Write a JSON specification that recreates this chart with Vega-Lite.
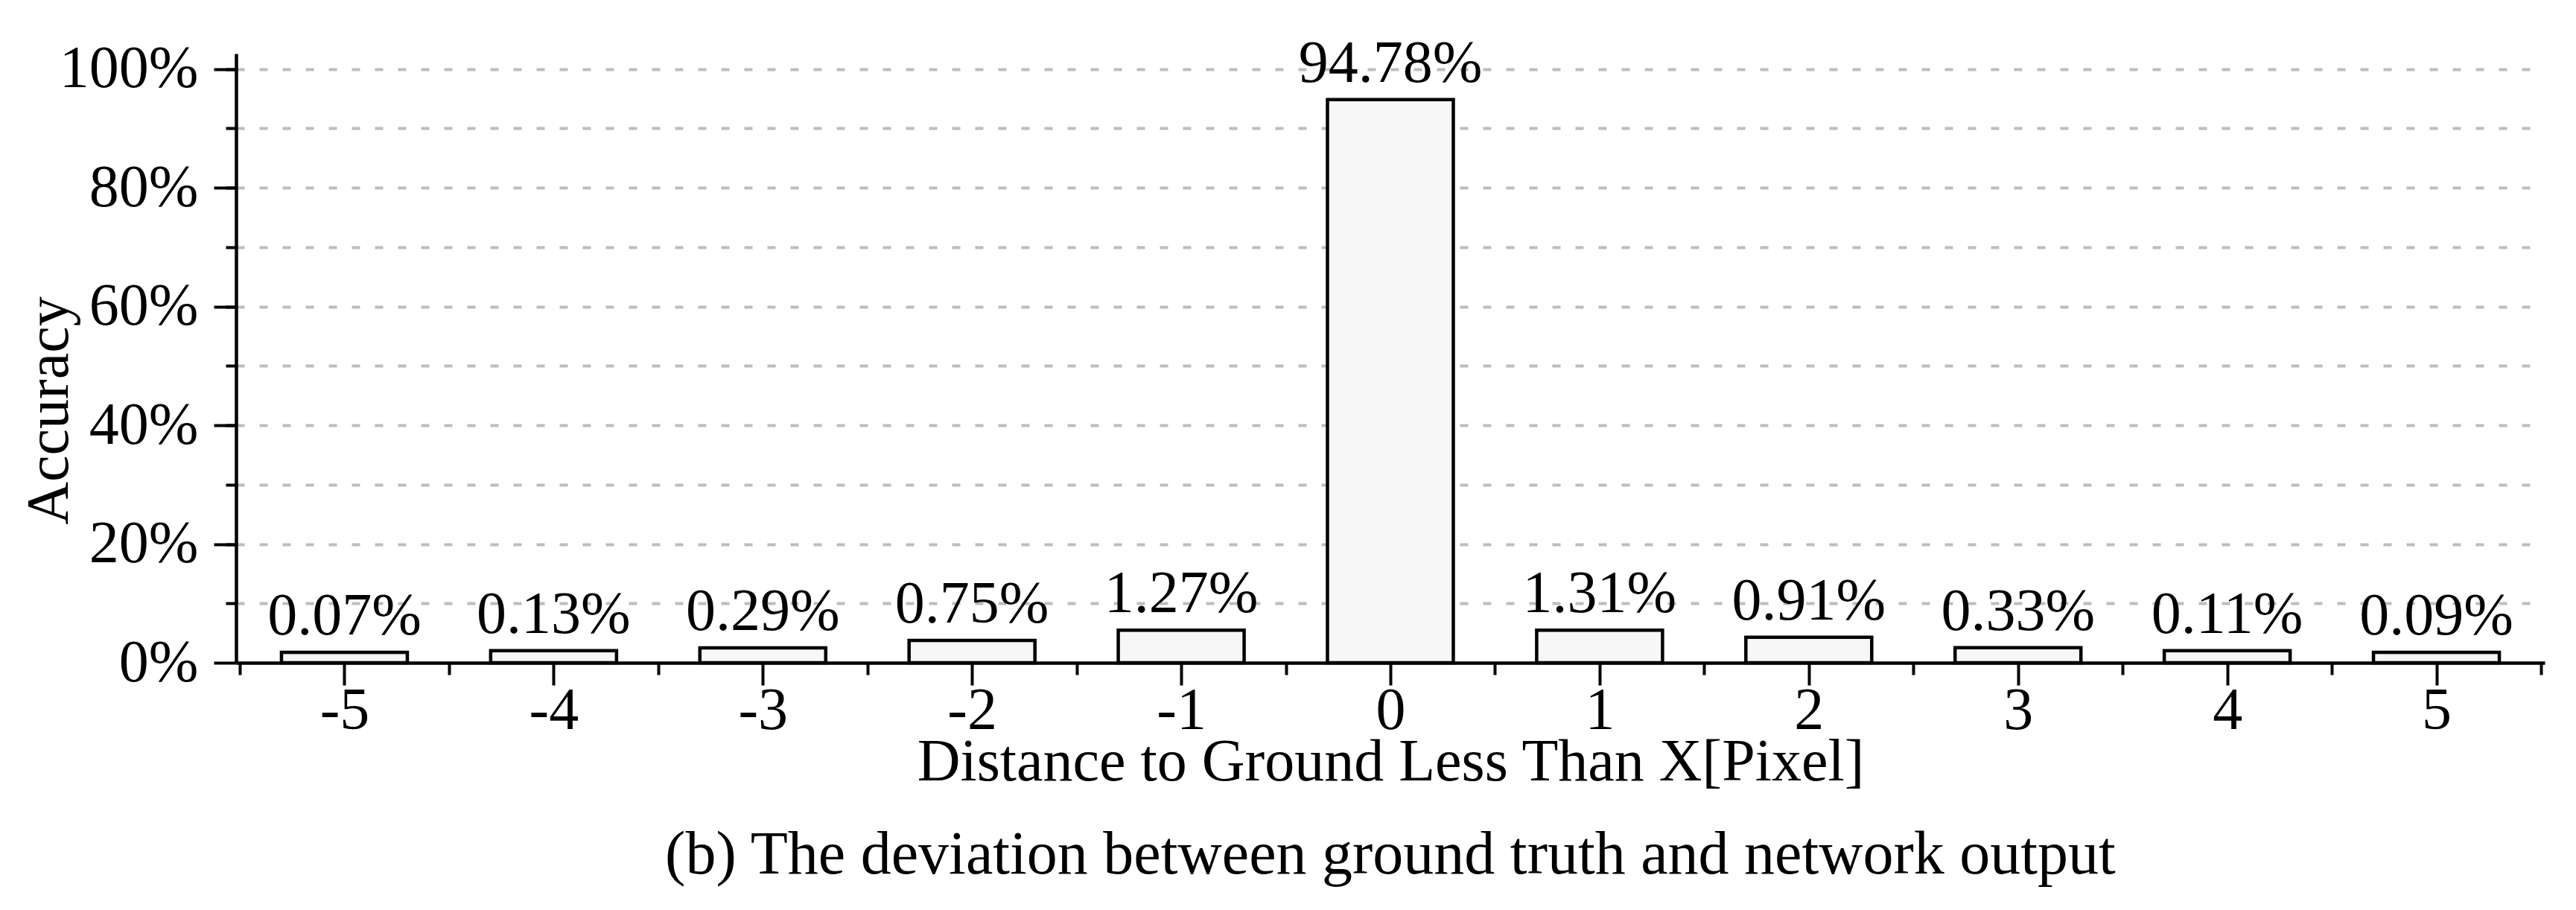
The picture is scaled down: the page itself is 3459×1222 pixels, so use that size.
{
  "$schema": "https://vega.github.io/schema/vega-lite/v6.json",
  "width": 3100,
  "height": 818,
  "autosize": {"type": "none"},
  "padding": {"left": 317, "top": 72, "right": 42, "bottom": 332},
  "background": "white",
  "config": {"view": {"stroke": null}, "font": "Liberation Serif"},
  "title": {
    "text": "(b) The deviation between ground truth and network output",
    "orient": "bottom",
    "anchor": "middle",
    "fontSize": 82,
    "font": "Liberation Serif",
    "fontWeight": "normal",
    "color": "black",
    "offset": 45
  },
  "data": {
    "values": [
      {"distance": -5, "bar_value": 1.76, "label": "0.07%"},
      {"distance": -4, "bar_value": 2.03, "label": "0.13%"},
      {"distance": -3, "bar_value": 2.5, "label": "0.29%"},
      {"distance": -2, "bar_value": 3.76, "label": "0.75%"},
      {"distance": -1, "bar_value": 5.5, "label": "1.27%"},
      {"distance": 0, "bar_value": 94.85, "label": "94.78%"},
      {"distance": 1, "bar_value": 5.5, "label": "1.31%"},
      {"distance": 2, "bar_value": 4.3, "label": "0.91%"},
      {"distance": 3, "bar_value": 2.55, "label": "0.33%"},
      {"distance": 4, "bar_value": 2.03, "label": "0.11%"},
      {"distance": 5, "bar_value": 1.76, "label": "0.09%"}
    ]
  },
  "layer": [
    {
      "mark": {"type": "bar", "orient": "vertical", "size": 169, "fill": "#f7f7f7", "stroke": "black", "strokeWidth": 4.5},
      "encoding": {
        "x": {
          "field": "distance", "type": "quantitative",
          "scale": {"domain": [-5.5, 5.5], "nice": false, "zero": false},
          "axis": {
            "orient": "bottom",
            "values": [-5, -4, -3, -2, -1, 0, 1, 2, 3, 4, 5],
            "grid": false,
            "domain": true, "domainColor": "black", "domainWidth": 4.5,
            "ticks": true, "tickSize": 30, "tickWidth": 4, "tickColor": "black",
            "labelExpr": "datum.value < 0 ? '-' + abs(datum.value) : '' + datum.value",
            "labelFont": "Liberation Serif", "labelFontSize": 80, "labelColor": "black", "labelPadding": -5,
            "labelFlush": false, "labelOverlap": false, "labelLimit": 0,
            "title": "Distance to Ground Less Than X[Pixel]",
            "titleFont": "Liberation Serif", "titleFontSize": 80, "titleFontWeight": "normal", "titleColor": "black",
            "titleX": 1550, "titleY": 157, "titleBaseline": "alphabetic", "titleAlign": "center", "titleLimit": 0
          }
        },
        "y": {
          "field": "bar_value", "type": "quantitative",
          "scale": {"domain": [0, 102.6], "nice": false},
          "axis": {
            "orient": "left",
            "values": [0, 20, 40, 60, 80, 100],
            "grid": false,
            "domain": true, "domainColor": "black", "domainWidth": 4.5,
            "ticks": true, "tickSize": 30, "tickWidth": 4, "tickColor": "black",
            "labelExpr": "datum.value + '%'",
            "labelFont": "Liberation Serif", "labelFontSize": 80, "labelColor": "black", "labelPadding": 21,
            "labelFlush": false, "labelOverlap": false, "labelLimit": 0,
            "title": "Accuracy",
            "titleFont": "Liberation Serif", "titleFontSize": 80, "titleFontWeight": "normal", "titleColor": "black",
            "titleX": -227, "titleY": 479, "titleAngle": -90, "titleBaseline": "alphabetic", "titleAlign": "center", "titleLimit": 0
          }
        }
      }
    },
    {
      "mark": {"type": "text", "baseline": "alphabetic", "align": "center", "dy": -24, "fontSize": 80, "font": "Liberation Serif", "color": "black"},
      "encoding": {
        "x": {
          "field": "distance", "type": "quantitative",
          "axis": {
            "orient": "bottom",
            "values": [-5.5, -4.5, -3.5, -2.5, -1.5, -0.5, 0.5, 1.5, 2.5, 3.5, 4.5, 5.5],
            "grid": false, "domain": false, "labels": false,
            "ticks": true, "tickSize": 16, "tickWidth": 4, "tickColor": "black",
            "title": null
          }
        },
        "y": {
          "field": "bar_value", "type": "quantitative",
          "axis": {
            "orient": "left",
            "values": [10, 20, 30, 40, 50, 60, 70, 80, 90, 100],
            "grid": true, "gridColor": "#bdbdbd", "gridWidth": 4, "gridDash": [11, 20],
            "domain": false, "labels": false,
            "ticks": true, "tickSize": 14, "tickWidth": 4, "tickColor": "black",
            "title": null
          }
        },
        "text": {"field": "label", "type": "nominal"}
      }
    }
  ],
  "resolve": {"axis": {"x": "independent", "y": "independent"}}
}
